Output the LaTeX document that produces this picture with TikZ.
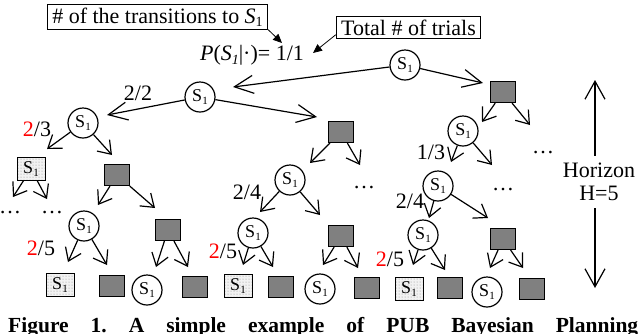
\documentclass[tikz,border=0pt]{standalone}
\usepackage{fontspec}
\setmainfont{Liberation Serif}
\usetikzlibrary{arrows.meta,patterns}
\definecolor{sqgray}{RGB}{128,128,128}
\newcommand{\Sone}{S\raisebox{-3pt}{\fontsize{11}{11}\selectfont 1}}
\begin{document}
\begin{tikzpicture}[x=1pt,y=-1pt,
  circ/.style={circle,draw,line width=1.2pt,minimum size=30pt,inner sep=0pt,font=\fontsize{18}{18}\selectfont},
  gsq/.style={rectangle,draw,line width=1.2pt,fill=sqgray,minimum width=25pt,minimum height=21pt,inner sep=0pt},
  dsq/.style={rectangle,draw,line width=0.9pt,preaction={fill=gray!10},pattern=dots,pattern color=gray!90,minimum width=28pt,minimum height=23pt,inner sep=0pt,font=\fontsize{18}{18}\selectfont},
  arr/.style={line width=1.2pt,-{Straight Barb[length=12pt,width=17pt]}},
  bigarr/.style={line width=1.2pt,-{Straight Barb[length=19pt,width=18pt]}},
  farr/.style={line width=0.8pt,-{Triangle[length=9pt,width=8pt]}},
  lbl/.style={inner sep=0pt,font=\fontsize{22}{22}\selectfont},
  dts/.style={inner sep=0pt,anchor=base,font=\fontsize{22}{22}\selectfont},
  tbox/.style={draw,line width=0.8pt,inner xsep=5pt,inner ysep=3pt,font=\fontsize{22}{22}\selectfont}
]
\useasboundingbox (0,0) rectangle (640,333);

% top annotation boxes
\node[tbox] (box1) at (157.5,17) {\# of the transitions to \textit{S}\raisebox{-3pt}{\fontsize{14}{14}\selectfont 1}};
\node[tbox] (box2) at (408.5,27.5) {Total \# of trials};
\node[lbl] (plab) at (252,55) {\textit{P}(\textit{S}\raisebox{-4pt}{\fontsize{14}{14}\selectfont\textit{1}}|·)= 1/1};
\coordinate (tb1) at (282,43);
\coordinate (tb2) at (313,53);
\draw[farr] (box1.south east) -- (tb1);
\draw[farr] ([yshift=4pt]box2.south west) -- (tb2);

% nodes
\node[circ] (r) at (405,65) {\Sone};
\node[circ] (a1) at (200,97) {\Sone};
\node[gsq] (a2) at (503,92) {};
\node[circ] (b1) at (83,123) {\Sone};
\node[gsq] (b2) at (341,132) {};
\node[circ] (b3) at (463,131) {\Sone};
\node[dsq] (c1) at (31,169) {\Sone};
\node[gsq] (c2) at (117,175) {};
\node[circ] (c3) at (290,180) {\Sone};
\node[circ] (c4) at (438,186) {\Sone};
\node[circ] (d1) at (84,226) {\Sone};
\node[gsq] (d2) at (168,230) {};
\node[circ] (d3) at (253,233) {\Sone};
\node[gsq] (d4) at (341,236) {};
\node[circ] (d5) at (423,235) {\Sone};
\node[gsq] (d6) at (503,239) {};
\node[dsq] (e1) at (60,285) {\Sone};
\node[gsq] (e2) at (112,286) {};
\node[circ] (e3) at (147,290) {\Sone};
\node[gsq] (e4) at (195,287) {};
\node[dsq] (e5) at (238,286) {\Sone};
\node[gsq] (e6) at (281,287) {};
\node[circ] (e7) at (320,289) {\Sone};
\node[gsq] (e8) at (367,288) {};
\node[dsq] (e9) at (409,289) {\Sone};
\node[gsq] (e10) at (450,288) {};
\node[circ] (e11) at (487,292) {\Sone};
\node[gsq] (e12) at (532,289) {};

% arrow tips
\coordinate (tr1) at (233,87);  \coordinate (tr2) at (483,83);
\coordinate (ta1) at (107,115); \coordinate (ta2) at (317,117);
\coordinate (tA1) at (482,122); \coordinate (tA2) at (530,125);
\coordinate (tb1l) at (47,149); \coordinate (tb1r) at (112,155);
\coordinate (tb2l) at (310,163); \coordinate (tb2r) at (360,165);
\coordinate (tb3l) at (451,162); \coordinate (tb3r) at (492,165);
\coordinate (tc1l) at (13,197); \coordinate (tc1r) at (47,199);
\coordinate (tc2l) at (98,205); \coordinate (tc2r) at (155,208);
\coordinate (tc3l) at (260,212); \coordinate (tc3r) at (320,215);
\coordinate (tc4l) at (429,218); \coordinate (tc4r) at (488,218);
\coordinate (td1l) at (68,262); \coordinate (td1r) at (107,265);
\coordinate (td2l) at (156,267); \coordinate (td2r) at (188,267);
\coordinate (td3l) at (243,265); \coordinate (td3r) at (273,267);
\coordinate (td4l) at (323,265); \coordinate (td4r) at (358,268);
\coordinate (td5l) at (413,265); \coordinate (td5r) at (445,270);
\coordinate (td6l) at (490,268); \coordinate (td6r) at (523,268);

\draw[bigarr] (r) -- (tr1);
\draw[bigarr] (r) -- (tr2);
\draw[bigarr] (a1) -- (ta1);
\draw[bigarr] (a1) -- (ta2);
\draw[arr] (a2) -- (tA1);
\draw[arr] (a2) -- (tA2);
\foreach \n in {b1,b2,b3,c1,c2,c3,c4,d1,d2,d3,d4,d5,d6}{
  \draw[arr] (\n) -- (t\n l);
  \draw[arr] (\n) -- (t\n r);
}

% labels
\node[lbl] (l22) at (138,93) {2/2};
\node[lbl] (l23) at (37,129) {{\color{red}2}/3};
\node[lbl] (l24a) at (247,192) {2/4};
\node[lbl] (l13) at (431,152) {1/3};
\node[lbl] (l24b) at (410,201) {2/4};
\node[lbl] (l25a) at (41,248) {{\color{red}2}/5};
\node[lbl] (l25b) at (223,251) {{\color{red}2}/5};
\node[lbl] (l25c) at (390,259) {{\color{red}2}/5};

% ellipses
\node[dts] (el1) at (10,213) {…};
\node[dts] (el2) at (52,213) {…};
\node[dts] (el3) at (364,188) {…};
\node[dts] (el4) at (503,190) {…};
\node[dts] (el5) at (543,153) {…};

% horizon
\node[lbl,align=center,inner ysep=7pt] (hor) at (599,182) {Horizon\\[1pt]H=5};
\coordinate (hTop) at (595,80);
\coordinate (hBot) at (595,288);
\draw[line width=1.2pt,-{Straight Barb[length=18pt,width=20pt]}] (hor.north -| hTop) -- (hTop);
\draw[line width=1.2pt,-{Straight Barb[length=18pt,width=20pt]}] (hor.south -| hBot) -- (hBot);

% caption (cut off at the lower edge, as in the reference)
\node[inner sep=0pt,anchor=base west,font=\bfseries\fontsize{21.5}{22}\selectfont] (cap) at (8,332)
  {\frenchspacing\makebox[630pt][s]{Figure 1. A simple example of PUB Bayesian Planning}};
\end{tikzpicture}
\end{document}
